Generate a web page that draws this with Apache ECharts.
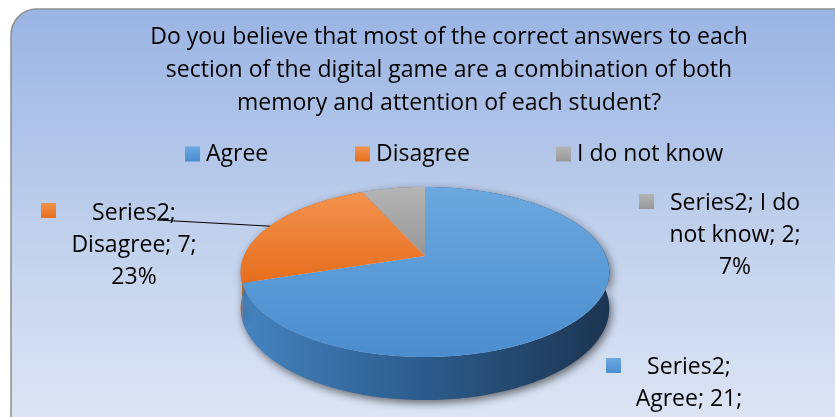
<!DOCTYPE html>
<html>
<head>
<meta charset="utf-8">
<script src="https://cdn.jsdelivr.net/npm/echarts@6/dist/echarts.min.js"></script>
<style>
  html, body { margin: 0; padding: 0; background: #fff; }
  #chart { width: 835px; height: 417px; }
</style>
</head>
<body>
<div id="chart"></div>
<script>
// data
var categories = ['Agree', 'Disagree', 'I do not know'];
var values = [21, 7, 2];
var seriesLabel = 'Series2';
var titleLines = [
  'Do you believe that most of the correct answers to each',
  'section of the digital game are a combination of both',
  'memory and attention of each student?'
];

// colours per slice: top face (light -> dark) and side wall
var topColors = [['#6ba8df', '#4b8dce'], ['#f3934f', '#e66e1d'], ['#b5b5b5', '#979797']];
var sideColors = [['#4583bf', '#2e5f90', '#1c3552'], ['#c9600f', '#b3530c', '#9a470a'], ['#8c8c8c', '#7a7a7a', '#666666']];

// label boxes (Excel puts them by hand)
var labelBox = [
  { cx: 689, top: 351, sqx: 606, sqy: 358 },
  { cx: 134, top: 197, sqx: 41, sqy: 203 },
  { cx: 735, top: 187, sqx: 639, sqy: 194 }
];

var FONT_FAMILY = '"Open Sans", sans-serif';
var FS = 23;

// pie geometry, simple perspective of a tilted disc
var PIE = { cx: 425, cy: 256, R: 181, Ry: 82, k: 0.188, H: 35 };
function proj(theta, down) {
  var X = Math.sin(theta), Z = Math.cos(theta);
  var s = 1 / (1 + PIE.k * Z);
  return [PIE.cx + PIE.R * X * s, PIE.cy - PIE.Ry * Z * s + (down || 0) * s];
}

var total = values.reduce(function (a, b) { return a + b; }, 0);

function vGrad(c) {
  return { type: 'linear', x: 0, y: 0, x2: 0, y2: 1,
    colorStops: [{ offset: 0, color: c[0] }, { offset: 1, color: c[1] }] };
}
function sideGrad(c) {
  return { type: 'linear', x: PIE.cx - PIE.R, y: 0, x2: PIE.cx + PIE.R, y2: 0, global: true,
    colorStops: [{ offset: 0, color: c[0] }, { offset: 0.45, color: c[1] }, { offset: 1, color: c[2] }] };
}

// greedy word wrap, like Excel does for data labels
var measureCtx = document.createElement('canvas').getContext('2d');
measureCtx.font = FS + 'px ' + FONT_FAMILY;
function wrap(text, maxW) {
  var words = text.split(' '), lines = [], cur = '';
  words.forEach(function (w) {
    var test = cur ? cur + ' ' + w : w;
    if (cur && measureCtx.measureText(test).width > maxW) {
      lines.push(cur);
      cur = w;
    } else {
      cur = test;
    }
  });
  if (cur) lines.push(cur);
  return lines.join('\n');
}

function makeRender(i) {
  return function (params, api) {
    var start = 0;
    for (var j = 0; j < i; j++) start += values[j];
    var a0 = start / total * Math.PI * 2;
    var a1 = (start + api.value(0)) / total * Math.PI * 2;
    var n = Math.max(2, Math.ceil((a1 - a0) / (Math.PI / 180)));
    var topPts = [[PIE.cx, PIE.cy]], upper = [], lower = [];
    for (var t = 0; t <= n; t++) {
      var a = a0 + (a1 - a0) * t / n;
      topPts.push(proj(a, 0));
      upper.push(proj(a, 0));
      lower.push(proj(a, PIE.H));
    }
    return {
      type: 'group',
      children: [
        {
          type: 'polygon', z2: 1,
          shape: { points: upper.concat(lower.reverse()) },
          style: { fill: sideGrad(sideColors[i]), shadowBlur: 8, shadowColor: 'rgba(0,0,0,0.55)', shadowOffsetX: 2, shadowOffsetY: 3 }
        },
        {
          type: 'polygon', z2: 10,
          shape: { points: topPts },
          style: { fill: vGrad(topColors[i]) }
        }
      ]
    };
  };
}

var series = categories.map(function (name, i) {
  return {
    type: 'custom',
    name: name,
    coordinateSystem: 'none',
    itemStyle: { color: vGrad(topColors[i]) },
    renderItem: makeRender(i),
    data: [values[i]]
  };
});

var legendLeft = [185, 355, 556];
var legends = categories.map(function (name, i) {
  return {
    data: [name],
    left: legendLeft[i],
    top: 142,
    padding: 0,
    icon: 'rect',
    itemWidth: 15,
    itemHeight: 15,
    selectedMode: false,
    textStyle: { fontSize: FS, fontFamily: FONT_FAMILY, color: '#000', lineHeight: 24, padding: [0, 0, 0, 1] }
  };
});

var graphics = [
  {
    type: 'rect', z: -10, silent: true,
    shape: { x: 11, y: 9, width: 860, height: 440, r: 26 },
    style: {
      fill: { type: 'linear', x: 0, y: 0, x2: 0, y2: 1,
        colorStops: [{ offset: 0, color: '#9ab4e3' }, { offset: 0.5, color: '#c0d0ec' }, { offset: 1, color: '#e1e8f5' }] },
      stroke: '#8e8e8e', lineWidth: 1.5
    }
  },
  {
    type: 'text', z: 100,
    style: {
      text: titleLines.join('\n'), x: 449, y: 20.5, align: 'center', verticalAlign: 'top',
      fontSize: FS, fontFamily: FONT_FAMILY, lineHeight: 33, fill: '#000'
    }
  }
];

// data labels with legend keys
categories.forEach(function (name, i) {
  var pct = Math.round(values[i] / total * 100);
  var b = labelBox[i];
  graphics.push({
    type: 'rect', z: 100,
    shape: { x: b.sqx, y: b.sqy, width: 15, height: 15 },
    style: { fill: vGrad(topColors[i]) }
  });
  graphics.push({
    type: 'text', z: 100,
    style: {
      text: wrap(seriesLabel + '; ' + name + '; ' + values[i] + '; ' + pct + '%', 148),
      x: b.cx, y: b.top, align: 'center', verticalAlign: 'top',
      fontSize: FS, fontFamily: FONT_FAMILY, lineHeight: 32, fill: '#000'
    }
  });
});

// leader line for the Disagree label
var leaderEnd = proj(293 / 180 * Math.PI, 0);
graphics.push({
  type: 'line', z: 101,
  shape: { x1: 157, y1: 220, x2: leaderEnd[0], y2: leaderEnd[1] },
  style: { stroke: '#000', lineWidth: 1 }
});

var chart = echarts.init(document.getElementById('chart'));
chart.setOption({
  animation: false,
  backgroundColor: '#fff',
  legend: legends,
  graphic: graphics,
  series: series
});
</script>
</body>
</html>
